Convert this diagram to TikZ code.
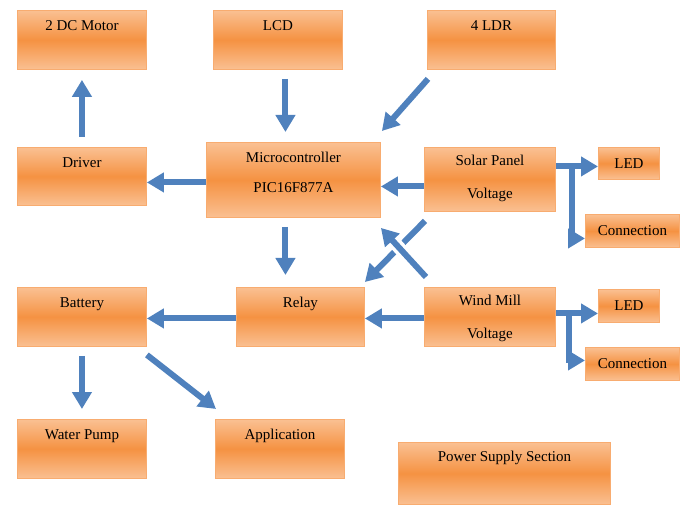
\documentclass[tikz,border=0pt]{standalone}
\usepackage{fontspec}
\setmainfont{Liberation Serif}
\usepackage{xcolor}
\usepackage{tikz}
\usetikzlibrary{
	arrows.meta,
	positioning
}
\definecolor{BoxLight}{RGB}{250,192,146}
\definecolor{BoxMid}{RGB}{245,146,66}
\definecolor{BoxEdge}{RGB}{248,172,112}
\definecolor{FlowBlue}{RGB}{79,129,189}
\newcommand{\twotext}[3]{\begin{tabular}[t]{@{}c@{}}#1\\[#3]#2\end{tabular}}

\begin{document}
\begin{tikzpicture}[x=1pt, y=-1pt,
	unit/.style={rectangle, draw=BoxEdge, line width=0.9pt, top color=BoxLight, bottom color=BoxLight, middle color=BoxMid, anchor=north west, inner xsep=0pt, inner ysep=0pt, font=\fontsize{15pt}{18pt}\selectfont},
	blk/.style={unit, text height=20pt},
	tag/.style={unit},
	flow/.style={draw=FlowBlue, line width=6pt, -{Triangle[length=17pt,width=19pt]}}]
	\useasboundingbox (0,0) rectangle (686,505);
	
	% 上排
	\node[blk, minimum width=129pt, text depth=39pt] (mot) at (17,10) {2 DC Motor};
	\node[blk, minimum width=129pt, text depth=39pt] (lcd) at (213,10) {LCD};
	\node[blk, minimum width=128pt, text depth=39pt] (ldr) at (427,10) {4 LDR};
	
	% 中排：控制器与电源
	\node[blk, minimum width=129pt, text depth=38pt] (drv) at (17,147) {Driver};
	\node[blk, minimum width=174pt, text depth=55pt] (mcu) at (206,142) {\twotext{Microcontroller}{PIC16F877A}{12pt}};
	\node[blk, minimum width=131pt, text height=18pt, text depth=46pt] (sol) at (424,147) {\twotext{Solar Panel}{Voltage}{15pt}};
	\node[tag, minimum width=61pt, minimum height=32pt] (led1) at (598,147) {LED};
	\node[tag, minimum width=94pt, minimum height=33pt] (con1) at (585,214) {Connection};
	
	\node[blk, minimum width=129pt, text depth=39pt] (bat) at (17,287) {Battery};
	\node[blk, minimum width=128pt, text depth=39pt] (rly) at (236,287) {Relay};
	\node[blk, minimum width=131pt, text height=18pt, text depth=41pt] (mil) at (424,287) {\twotext{Wind Mill}{Voltage}{15pt}};
	\node[tag, minimum width=61pt, minimum height=33pt] (led2) at (598,289) {LED};
	\node[tag, minimum width=94pt, minimum height=33pt] (con2) at (585,347) {Connection};
	
	% 下排
	\node[blk, minimum width=129pt, text depth=39pt] (pmp) at (17,419) {Water Pump};
	\node[blk, minimum width=129pt, text depth=39pt] (app) at (215,419) {Application};
	\node[blk, minimum width=212pt, text height=19pt, text depth=43pt] (pss) at (398,442) {Power Supply Section};
	
	% 箭头
	\draw[flow, shorten <=10pt, shorten >=10pt] (drv.north) -- (mot.south);
	\draw[flow, shorten <=9pt, shorten >=10pt] ([xshift=7.5pt]lcd.south) -- ([xshift=7.5pt]lcd.south |- mcu.north);
	\draw[flow] ([shift={(1pt,-9pt)}]ldr.south west) -- ([shift={(1pt,11pt)}]mcu.north east);
	\draw[flow] ([yshift=-2.5pt]mcu.west) -- ([yshift=-2.5pt]mcu.west -| drv.east);
	\draw[flow] ([yshift=-7pt]sol.west) -- ([yshift=-7pt]sol.west -| mcu.east);
	\draw[flow, shorten <=9pt, shorten >=12pt] ([xshift=-8pt]mcu.south) -- ([xshift=-8pt]mcu.south |- rly.north);
	
	% 交叉的两条斜线
	\coordinate (sa) at ([shift={(1pt,-9pt)}]sol.south west);
	\coordinate (wa) at ([shift={(2pt,10pt)}]mil.north west);
	\draw[flow] (sa) -- ([shift={(0pt,5pt)}]rly.north east);
	\draw[white, line width=13pt, shorten <=12pt, shorten >=22pt] (wa) -- ([yshift=-10pt]mcu.south east);
	\draw[flow] (wa) -- ([yshift=-10pt]mcu.south east);
	
	\draw[flow] ([yshift=-1.5pt]mil.west) -- ([yshift=-1.5pt]mil.west -| rly.east);
	\draw[flow] ([yshift=-1.5pt]rly.west) -- ([yshift=-1.5pt]rly.west -| bat.east);
	\draw[flow, shorten <=9pt, shorten >=10pt] (bat.south) -- (pmp.north);
	\draw[flow] ([yshift=-8pt]bat.south east) -- ([shift={(1pt,10pt)}]app.north west);
	
	% 右侧分支
	\coordinate (j1) at (572,166);
	\draw[flow] ([yshift=13pt]sol.east) -- ([yshift=13pt]sol.east -| led1.west);
	\draw[flow] (j1) |- ([yshift=-7.5pt]con1.west);
	\coordinate (j2) at (569,313);
	\draw[flow] ([yshift=3.5pt]mil.east) -- ([yshift=3.5pt]mil.east -| led2.west);
	\draw[flow] (j2) |- ([yshift=3.5pt]con2.west);
\end{tikzpicture}
\end{document}
